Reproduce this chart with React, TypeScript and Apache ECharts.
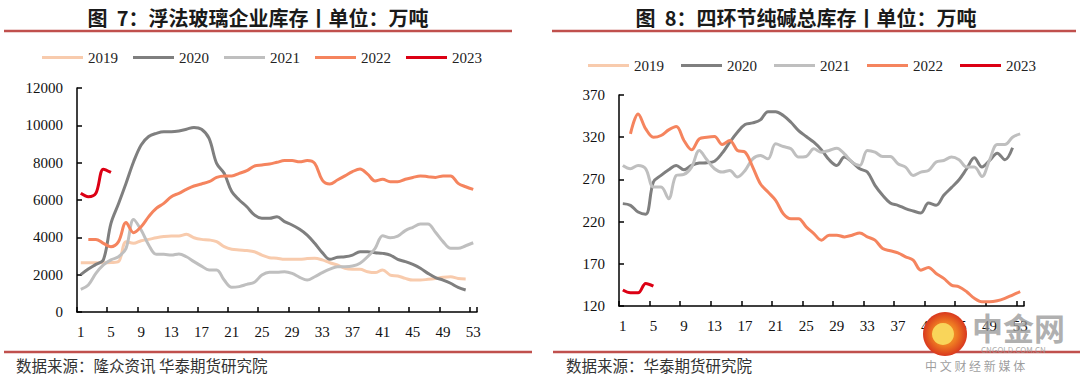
import React, { useEffect, useRef } from "react";
import * as echarts from "echarts";

// ---------- data ----------
const weeks: string[] = Array.from({ length: 53 }, (_, i) => String(i + 1));

// Figure 7: float glass enterprise inventory (10k tons)
const glass2019: (number | null)[] = [
  2640, 2640, 2640, 2640, 2650, 2700, 3770, 3680, 3820, 3890, 3980, 4040, 4070, 4070, 4160, 3980, 3890, 3860, 3770, 3500,
  3360, 3320, 3290, 3230, 3050, 2910, 2880, 2820, 2820, 2820, 2860, 2880, 2790, 2640, 2520, 2340, 2290, 2290, 2160, 2110,
  2250, 1980, 1930, 1800, 1710, 1710, 1750, 1800, 1860, 1890, 1800, 1770, null,
];
const glass2020: (number | null)[] = [
  2000, 2300, 2550, 2800, 4750, 5800, 6900, 8050, 8950, 9400, 9570, 9660, 9660, 9700, 9790, 9890, 9790, 9300, 7960, 7430,
  6450, 6000, 5640, 5200, 5020, 5020, 5100, 4840, 4660, 4430, 4120, 3680, 3180, 2820, 2930, 2960, 3050, 3230, 3230, 3180,
  3140, 3050, 2820, 2700, 2550, 2340, 2070, 1840, 1710, 1540, 1320, 1180, null,
];
const glass2021: (number | null)[] = [
  1210, 1450, 2070, 2520, 2790, 2960, 3410, 4960, 4390, 3590, 3090, 3090, 3050, 3110, 2960, 2700, 2460, 2250, 2250, 1710,
  1320, 1360, 1480, 1590, 1980, 2130, 2130, 2160, 2070, 1860, 1710, 1890, 2110, 2300, 2430, 2430, 2460, 2610, 2960, 3410,
  4090, 3980, 4070, 4360, 4540, 4710, 4710, 4270, 3770, 3410, 3410, 3550, 3710,
];
const glass2022: (number | null)[] = [
  null, 3890, 3890, 3680, 3500, 3770, 4790, 4250, 4570, 5110, 5550, 5820, 6180, 6360, 6570, 6750, 6860, 6980, 7210, 7290,
  7290, 7430, 7570, 7820, 7880, 7930, 8020, 8110, 8110, 8050, 8110, 7960, 7070, 6860, 7070, 7290, 7520, 7660, 7390, 7020,
  7110, 6980, 6980, 7110, 7210, 7290, 7250, 7210, 7290, 7290, 6890, 6710, 6570,
];
const glass2023: (number | null)[] = [6360, 6180, 6360, 7650, 7480];

// Figure 8: soda ash total inventory across four links (10k tons)
const soda2020: (number | null)[] = [
  241.3, 239.3, 231.4, 228.7, 266.9, 274.7, 281.4, 286.5, 281.4, 286.5, 289.3, 289.7, 291.6, 301.1, 314.1, 325.9, 335.0, 336.9, 340.5, 350.3,
  350.3, 345.6, 337.7, 327.9, 320.8, 314.1, 305.0, 293.2, 286.5, 296.4, 290.5, 282.6, 278.7, 262.9, 251.1, 242.0, 239.3, 235.4, 232.6, 230.2,
  242.0, 239.3, 251.1, 260.2, 269.6, 282.6, 295.6, 284.6, 292.4, 301.1, 293.2, 307.4, null,
];
const soda2021: (number | null)[] = [
  286.5, 282.6, 286.5, 282.6, 260.9, 260.9, 247.2, 274.7, 275.9, 284.6, 304.3, 293.2, 282.6, 278.7, 280.6, 272.8, 280.6, 294.4, 298.3, 294.4,
  312.1, 309.0, 306.2, 296.4, 297.2, 306.2, 302.3, 304.3, 307.0, 300.3, 290.5, 286.5, 304.3, 302.3, 297.2, 297.2, 288.5, 284.6, 274.7, 278.7,
  280.6, 290.5, 292.4, 296.4, 293.2, 284.6, 284.6, 273.5, 293.2, 311.3, 311.3, 320.0, 323.9,
];
const soda2022: (number | null)[] = [
  null, 324.0, 347.6, 329.8, 320.0, 322.0, 328.7, 332.6, 316.1, 305.0, 318.0, 320.0, 320.8, 311.3, 316.1, 304.3, 302.3, 284.6, 264.9, 255.0,
  245.2, 229.4, 223.5, 223.5, 213.7, 205.8, 198.0, 203.9, 203.9, 201.9, 203.9, 206.6, 201.9, 198.0, 188.1, 185.4, 183.0, 178.3, 174.3, 162.5,
  165.7, 158.6, 152.7, 144.8, 142.8, 136.9, 129.1, 125.1, 125.1, 126.3, 129.1, 133.0, 136.9,
];
const soda2023: (number | null)[] = [138.9, 135.7, 135.7, 146.8, 143.6];
const soda2019: (number | null)[] = [];

const yearNames = ["2019", "2020", "2021", "2022", "2023"];
const yearColors = ["#F8CBAD", "#7F7F7F", "#BFBFBF", "#F5845E", "#DC0014"];

const glassTicks = { min: 0, max: 12000, interval: 2000 };
const sodaTicks = { min: 120, max: 370, interval: 50 };

const title7 = "图  7：浮法玻璃企业库存丨单位：万吨";
const title8 = "图  8：四环节纯碱总库存丨单位：万吨";
const source7 = "数据来源：隆众资讯 华泰期货研究院";
const source8 = "数据来源：华泰期货研究院";

// ---------- chart ----------
const SERIF = "'Liberation Serif', 'Times New Roman', serif";
const CJK = "'Noto Sans CJK SC', 'Noto Sans', sans-serif";
const RULE = "#C0504D";

function makeXAxis(gridIndex: number) {
  return {
    type: "category",
    gridIndex,
    data: weeks,
    boundaryGap: true,
    axisLine: { lineStyle: { color: "#000", width: 1.5 } },
    axisTick: { show: true, inside: true, length: 5, interval: 3, lineStyle: { color: "#000", width: 1.5 } },
    axisLabel: { interval: 3, margin: 12, color: "#111", fontFamily: SERIF, fontSize: 15 },
    splitLine: { show: false },
  };
}

function makeYAxis(gridIndex: number, t: { min: number; max: number; interval: number }) {
  return {
    type: "value",
    gridIndex,
    min: t.min,
    max: t.max,
    interval: t.interval,
    axisLine: { show: true, lineStyle: { color: "#000", width: 1.5 } },
    axisTick: { show: true, inside: true, length: 5, lineStyle: { color: "#000", width: 1.5 } },
    axisLabel: {
      margin: 14,
      color: "#111",
      fontFamily: SERIF,
      fontSize: 15,
      formatter: (v: number) => String(v),
    },
    splitLine: { show: false },
  };
}

function line(name: string, data: (number | null)[], idx: number, color: string) {
  return {
    type: "line",
    name,
    data,
    xAxisIndex: idx,
    yAxisIndex: idx,
    symbol: "none",
    smooth: 0.35,
    connectNulls: false,
    lineStyle: { color, width: 3 },
    itemStyle: { color },
    emphasis: { disabled: true },
  };
}

export default function App() {
  const ref = useRef<HTMLDivElement>(null);

  useEffect(() => {
    if (!ref.current) return;
    const chart = echarts.init(ref.current, undefined, { renderer: "svg" });

    const glassSets = [glass2019, glass2020, glass2021, glass2022, glass2023];
    const sodaSets = [soda2019, soda2020, soda2021, soda2022, soda2023];

    const series: any[] = [];
    yearNames.forEach((n, i) => series.push(line(n, glassSets[i], 0, yearColors[i])));
    yearNames.forEach((n, i) => series.push(line(n, sodaSets[i], 1, yearColors[i])));

    const legendBase = {
      data: yearNames,
      icon: "rect",
      itemWidth: 41,
      itemHeight: 3,
      selectedMode: false,
      textStyle: { color: "#222", fontFamily: SERIF, fontSize: 15 },
    };

    const option: any = {
      animation: false,
      backgroundColor: "#fff",
      grid: [
        { left: 77, top: 88, width: 400, height: 224, containLabel: false },
        { left: 619, top: 95, width: 405, height: 211, containLabel: false },
      ],
      xAxis: [makeXAxis(0), makeXAxis(1)],
      yAxis: [makeYAxis(0, glassTicks), makeYAxis(1, sodaTicks)],
      legend: [
        { ...legendBase, left: 37, top: 45, itemGap: 15 },
        { ...legendBase, left: 583, top: 53, itemGap: 17 },
      ],
      series,
      graphic: [
        {
          type: "text",
          x: 258,
          y: 17,
          style: {
            text: title7,
            font: `bold 20px ${CJK}`,
            fill: "#1a1a1a",
            textAlign: "center",
            textVerticalAlign: "middle",
          },
        },
        {
          type: "text",
          x: 806,
          y: 17,
          style: {
            text: title8,
            font: `bold 20px ${CJK}`,
            fill: "#1a1a1a",
            textAlign: "center",
            textVerticalAlign: "middle",
          },
        },
        { type: "line", shape: { x1: 4, y1: 31, x2: 512, y2: 31 }, style: { stroke: RULE, lineWidth: 2.5 } },
        { type: "line", shape: { x1: 552, y1: 31, x2: 1076, y2: 31 }, style: { stroke: RULE, lineWidth: 2.5 } },
        { type: "line", shape: { x1: 4, y1: 352, x2: 532, y2: 352 }, style: { stroke: RULE, lineWidth: 2.5 } },
        { type: "line", shape: { x1: 553, y1: 352, x2: 1080, y2: 352 }, style: { stroke: RULE, lineWidth: 2.5 } },
        {
          type: "text",
          left: 16,
          top: 357,
          style: { text: source7, font: `15.5px ${CJK}`, fill: "#333" },
        },
        {
          type: "text",
          left: 566,
          top: 357,
          style: { text: source8, font: `15.5px ${CJK}`, fill: "#333" },
        },
        // watermark
        {
          type: "circle",
          shape: { cx: 945, cy: 334, r: 22 },
          style: {
            fill: new echarts.graphic.RadialGradient(0.5, 0.5, 0.5, [
              { offset: 0, color: "#F7B733" },
              { offset: 0.55, color: "#EE7A22" },
              { offset: 1, color: "#D9381E" },
            ]),
          },
          z: 100,
        },
        {
          type: "circle",
          shape: { cx: 943, cy: 334, r: 11 },
          style: { fill: "#F9D55A" },
          z: 101,
        },
        {
          type: "text",
          left: 972,
          top: 311,
          style: { text: "中金网", font: `bold 31px ${CJK}`, fill: "rgba(150,150,150,0.75)" },
          z: 100,
        },
        {
          type: "text",
          left: 981,
          top: 345,
          style: { text: "CNGOLD.COM.CN", font: `8px ${CJK}`, fill: "rgba(150,150,150,0.8)" },
          z: 100,
        },
        {
          type: "text",
          left: 925,
          top: 359,
          style: { text: "中 文 财 经 新 媒 体", font: `12px ${CJK}`, fill: "rgba(140,140,140,0.85)" },
          z: 100,
        },
      ],
    };

    chart.setOption(option);
    return () => chart.dispose();
  }, []);

  return (
    <div
      ref={ref}
      style={{ position: "fixed", left: 0, top: 0, width: 1080, height: 382, background: "#fff" }}
    />
  );
}
